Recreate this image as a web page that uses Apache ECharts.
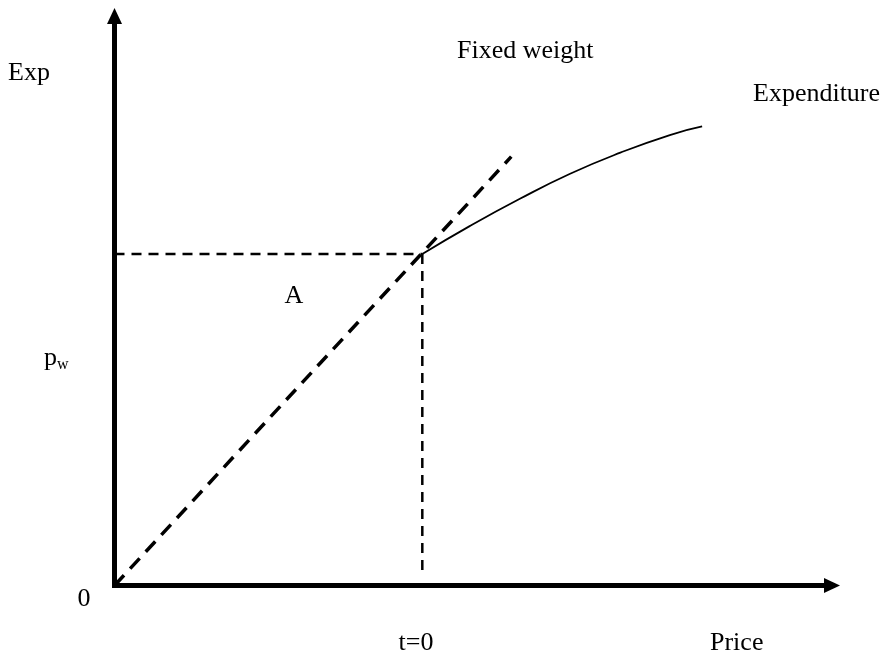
<!DOCTYPE html>
<html>
<head>
<meta charset="utf-8">
<script src="https://cdn.jsdelivr.net/npm/echarts@6/dist/echarts.min.js"></script>
<style>
html,body{margin:0;padding:0;background:#fff;}
#chart{width:888px;height:657px;}
</style>
</head>
<body>
<div id="chart"></div>
<script>
// Schematic values (price on x, expenditure on y, both 0..100)
const axisMax = 100;
const originPoint = [0, 0];
const basePoint = [42.9, 58.2];           // t=0, expenditure at base prices
const fixedWeightEnd = [55.3, 75.3];      // end of fixed-weight (dashed) line
const verticalDropEnd = [42.9, 1.5];
const expenditureCurve = [
  [42.9, 58.2], [49.5, 63.1], [56.5, 67.9], [63.5, 72.3],
  [70.5, 76.0], [77.4, 79.1], [81.9, 80.6]
];
const labelTexts = {
  exp: 'Exp', zero: '0', pw: ['p', 'w'], t0: 't=0', price: 'Price',
  fixed: 'Fixed weight', expenditure: 'Expenditure', area: 'A'
};

const FONT = '"Liberation Serif", "Times New Roman", serif';
const chart = echarts.init(document.getElementById('chart'), null, {renderer: 'canvas'});

function txt(text, x, y, align) {
  return {
    type: 'text', x: x, y: y, silent: true,
    style: {text: text, fill: '#000', fontFamily: FONT, fontSize: 26,
            align: align || 'left', verticalAlign: 'middle'}
  };
}

const axisCommon = {
  type: 'value', min: 0, max: axisMax,
  splitLine: {show: false}, axisTick: {show: false}, axisLabel: {show: false},
  axisLine: {
    show: true, symbol: ['none', 'triangle'], symbolSize: [15, 16],
    lineStyle: {color: '#000', width: 5, cap: 'square'}
  }
};

chart.setOption({
  animation: false,
  backgroundColor: '#fff',
  grid: {left: 114.5, top: 16, right: 56, bottom: 71.5, containLabel: false},
  xAxis: axisCommon,
  yAxis: axisCommon,
  series: [
    {
      type: 'line', symbol: 'none', silent: true,
      data: [originPoint, fixedWeightEnd],
      lineStyle: {color: '#000', width: 3.5, type: [14, 9]}, z: 3
    },
    {
      type: 'line', symbol: 'none', silent: true,
      data: [[0, basePoint[1]], basePoint],
      lineStyle: {color: '#000', width: 2.5, type: [10, 7]}, z: 3
    },
    {
      type: 'line', symbol: 'none', silent: true,
      data: [basePoint, verticalDropEnd],
      lineStyle: {color: '#000', width: 2.5, type: [10, 7]}, z: 3
    },
    {
      type: 'line', symbol: 'none', silent: true, smooth: 0.5,
      data: expenditureCurve,
      lineStyle: {color: '#000', width: 1.8, type: 'solid'}, z: 3
    }
  ],
  graphic: [
    txt(labelTexts.exp, 8, 73),
    txt(labelTexts.fixed, 457, 51),
    txt(labelTexts.expenditure, 753, 94),
    txt(labelTexts.area, 294, 296, 'center'),
    txt(labelTexts.zero, 84, 599, 'center'),
    txt(labelTexts.t0, 416, 643, 'center'),
    txt(labelTexts.price, 710, 643),
    {
      type: 'text', x: 44, y: 358, silent: true,
      style: {
        text: '{p|' + labelTexts.pw[0] + '}{w|' + labelTexts.pw[1] + '}',
        fill: '#000', align: 'left', verticalAlign: 'middle',
        rich: {
          p: {fontFamily: FONT, fontSize: 26, lineHeight: 30, fill: '#000'},
          w: {fontFamily: FONT, fontSize: 16, lineHeight: 16, verticalAlign: 'bottom', fill: '#000'}
        }
      }
    }
  ]
});
</script>
</body>
</html>
